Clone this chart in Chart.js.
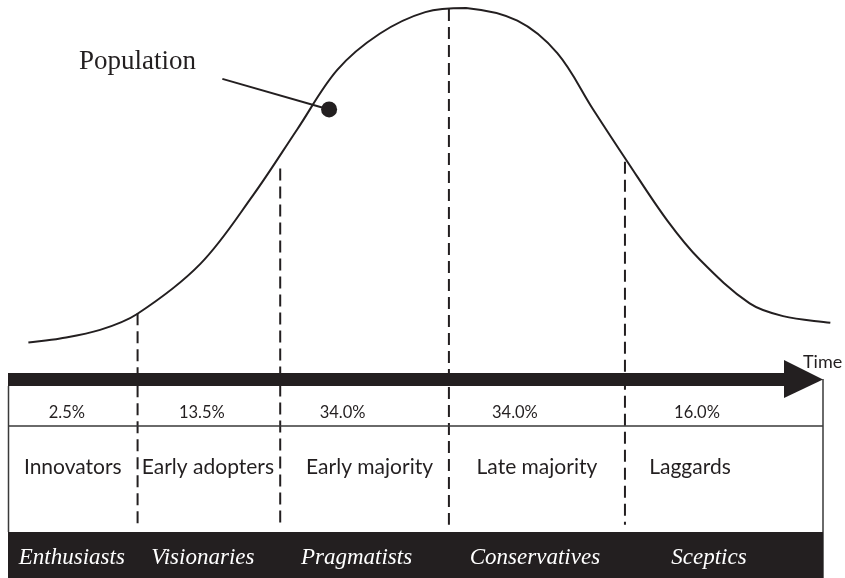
<!DOCTYPE html>
<html>
<head>
<meta charset="utf-8">
<script src="https://cdn.jsdelivr.net/npm/chart.js@4"></script>
<style>
  body { margin: 0; background: #fff; }
  canvas { display: block; }
</style>
</head>
<body>
<canvas id="chart" width="845" height="578"></canvas>
<script>
// curve: time 0-100 along the arrow, population 0-100 (peak)
let curveTime = [2.5, 6.4, 11.3, 15.8, 23.6, 30.1, 35.5, 40.4, 45.6, 51.2, 56.2, 62.5, 67.4, 71.8, 76.0, 80.9, 84.9, 91.0, 95.1, 100.9]
let curvePop = [10.3, 11.4, 13.7, 17.9, 31.4, 49.9, 67.5, 83.4, 93.1, 98.9, 100, 96.6, 87.9, 72.8, 58.8, 43.0, 32.5, 20.8, 17.4, 15.6]

// segment boundaries along time, and where each dashed line starts
let boundaries = [15.9, 33.4, 54.1, 75.7]
let boundaryTops = [18.2, 57.0, 99.7, 58.8]
let tableEnd = 100

let categories = ["Innovators", "Early adopters", "Early majority", "Late majority", "Laggards"]
let shares = [2.5, 13.5, 34.0, 34.0, 16.0]
let personas = ["Enthusiasts", "Visionaries", "Pragmatists", "Conservatives", "Sceptics"]

// the "Population" marker
let markerPoint = { x: 39.4, y: 72.8 }
let markerLabelPoint = { x: 26.3, y: 81.0 }

let ink = '#231f20'

// small nudges so each text sits like the picture (px)
let shareNudge = [-6, -7, -22, -22, -27]
let catNudge = [0, -1, 5, 0, -34]
let personaNudge = [-1, -6, -8, -2, -15]

let tablePlugin = {
  id: 'table',
  afterDatasetsDraw(chart) {
    let ctx = chart.ctx
    let xs = chart.scales.x
    let left = xs.getPixelForValue(0)
    let right = xs.getPixelForValue(tableEnd)
    let edges = [0].concat(boundaries).concat([tableEnd]).map(v => xs.getPixelForValue(v))
    ctx.save()

    // table frame
    ctx.strokeStyle = '#3a3a3a'
    ctx.lineWidth = 1.5
    ctx.beginPath()
    ctx.moveTo(left + 0.5, 386); ctx.lineTo(left + 0.5, 532)
    ctx.moveTo(right, 379); ctx.lineTo(right, 578)
    ctx.moveTo(left, 426); ctx.lineTo(right, 426)
    ctx.stroke()

    // time arrow
    ctx.fillStyle = ink
    ctx.fillRect(left, 373, 785 - left, 13)
    ctx.beginPath()
    ctx.moveTo(784, 360); ctx.lineTo(right, 379.5); ctx.lineTo(784, 398)
    ctx.closePath()
    ctx.fill()

    // black band
    ctx.fillRect(left, 532, right - left, 578 - 532)

    ctx.textAlign = 'center'
    ctx.textBaseline = 'middle'
    for (let i = 0; i < categories.length; i++) {
      let mid = (edges[i] + edges[i + 1]) / 2
      ctx.fillStyle = ink
      ctx.font = '16.5px Lato'
      ctx.fillText(shares[i].toFixed(1) + '%', mid + shareNudge[i], 413)
      ctx.font = '21px Lato'
      ctx.fillText(categories[i], mid + catNudge[i], 467)
      ctx.fillStyle = '#fff'
      ctx.font = 'italic 23px "Liberation Serif"'
      ctx.fillText(personas[i], mid + personaNudge[i], 558)
    }

    ctx.fillStyle = ink
    ctx.font = '18px Lato'
    ctx.textAlign = 'left'
    ctx.fillText('Time', 803, 362)

    ctx.font = '27px "Liberation Serif"'
    ctx.textAlign = 'left'
    ctx.fillText('Population', 79, 62)
    ctx.restore()
  }
}

let dashedSets = boundaries.map((b, i) => ({
  data: [{ x: b, y: boundaryTops[i] }, { x: b, y: -38.5 }],
  borderColor: ink,
  borderWidth: 2,
  borderDash: [12, 6],
  pointRadius: 0,
  tension: 0
}))

new Chart(document.getElementById('chart'), {
  type: 'line',
  data: {
    datasets: [
      {
        data: curveTime.map((t, i) => ({ x: t, y: curvePop[i] })),
        borderColor: ink,
        borderWidth: 2,
        pointRadius: 0,
        tension: 0.35,
        clip: false
      },
      ...dashedSets,
      {
        data: [markerLabelPoint, markerPoint],
        borderColor: ink,
        borderWidth: 2,
        pointRadius: [0, 8],
        pointBackgroundColor: ink,
        pointBorderWidth: 0,
        tension: 0
      }
    ]
  },
  options: {
    responsive: false,
    animation: false,
    devicePixelRatio: 1,
    layout: { padding: { left: 8, right: 22, top: 7, bottom: 0 } },
    plugins: { legend: { display: false }, tooltip: { enabled: false } },
    scales: {
      x: { type: 'linear', min: 0, max: 100, display: false },
      y: { min: -50.66, max: 100, display: false }
    }
  },
  plugins: [tablePlugin]
})
</script>
</body>
</html>
